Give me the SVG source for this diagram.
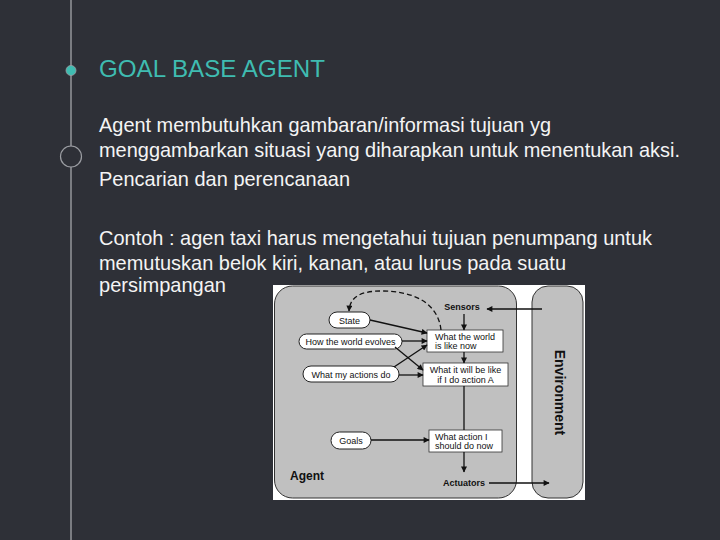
<svg xmlns="http://www.w3.org/2000/svg" width="720" height="540" viewBox="0 0 720 540">
<style>
.body{font-family:"Liberation Sans",Arial,sans-serif;font-size:21px;fill:#f4f4f4}
.title{font-family:"Liberation Sans",Arial,sans-serif;font-size:24px;fill:#3fbcb1}
.lbl{font-family:"Liberation Sans",Arial,sans-serif;font-size:9px;fill:#111}
.bold{font-weight:bold}
.oval{fill:#fff;stroke:#222;stroke-width:1}
.box{fill:#fff;stroke:#333;stroke-width:0.8}
.conn{stroke:#111;stroke-width:1.3;fill:none}
</style>
<defs>
<marker id="ah" viewBox="0 0 10 10" refX="9" refY="5" markerWidth="7" markerHeight="6" orient="auto" markerUnits="userSpaceOnUse">
<path d="M0,0 L10,5 L0,10 z" fill="#111"/>
</marker>
</defs>
<rect width="720" height="540" fill="#2e3037"/>
<g id="timeline">
<line x1="71" y1="0" x2="71" y2="540" stroke="#9c9ea3" stroke-width="1.4"/>
<circle cx="71" cy="70.5" r="5" fill="#3fbcb1" stroke="#9c9ea3" stroke-width="0.8"/>
<circle cx="71" cy="156.5" r="10.5" fill="#2e3037" stroke="#9c9ea3" stroke-width="1.2"/>
</g>
<g id="text">
<text class="title" x="99" y="77" textLength="226" lengthAdjust="spacingAndGlyphs">GOAL BASE AGENT</text>
<text class="body" x="99" y="132" textLength="452" lengthAdjust="spacingAndGlyphs">Agent membutuhkan gambaran/informasi tujuan yg</text>
<text class="body" x="99" y="157" textLength="581" lengthAdjust="spacingAndGlyphs">menggambarkan situasi yang diharapkan untuk menentukan aksi.</text>
<text class="body" x="99" y="186" textLength="251" lengthAdjust="spacingAndGlyphs">Pencarian dan perencanaan</text>
<text class="body" x="99" y="245" textLength="553" lengthAdjust="spacingAndGlyphs">Contoh : agen taxi harus mengetahui tujuan penumpang untuk</text>
<text class="body" x="99" y="270" textLength="467" lengthAdjust="spacingAndGlyphs">memutuskan belok kiri, kanan, atau lurus pada suatu</text>
<text class="body" x="99" y="292" textLength="127" lengthAdjust="spacingAndGlyphs">persimpangan</text>
</g>
<g id="figure">
<rect x="273" y="285" width="312" height="215" fill="#fff"/>
<g id="agent">
<rect x="274.5" y="286" width="242" height="212" rx="18" fill="#c0c0c0" stroke="#333" stroke-width="1"/>
<text class="lbl bold" x="290" y="480" style="font-size:12px">Agent</text>
</g>
<g id="environment">
<rect x="532" y="286" width="51" height="212" rx="16" fill="#c0c0c0" stroke="#333" stroke-width="1"/>
<text class="lbl bold" x="0" y="0" text-anchor="middle" style="font-size:14px" transform="translate(555,392.5) rotate(90)">Environment</text>
</g>
<g id="sensors"><text class="lbl bold" x="462" y="310" text-anchor="middle">Sensors</text></g>
<g id="actuators"><text class="lbl bold" x="464" y="486" text-anchor="middle">Actuators</text></g>
<g id="state"><rect class="oval" x="329" y="312" width="41" height="16" rx="8"/><text class="lbl" x="349.5" y="323.5" text-anchor="middle">State</text></g>
<g id="evolves"><rect class="oval" x="299" y="334" width="103" height="15" rx="7.5"/><text class="lbl" x="350.5" y="345" text-anchor="middle">How the world evolves</text></g>
<g id="actions"><rect class="oval" x="303" y="366" width="96" height="16" rx="8"/><text class="lbl" x="351" y="377.5" text-anchor="middle">What my actions do</text></g>
<g id="goals"><rect class="oval" x="331" y="432" width="40" height="17" rx="8.5"/><text class="lbl" x="351" y="444" text-anchor="middle">Goals</text></g>
<g id="world-now"><rect class="box" x="427" y="330" width="76" height="22"/><text class="lbl" x="435" y="339.5">What the world</text><text class="lbl" x="435" y="349">is like now</text></g>
<g id="will-be"><rect class="box" x="423" y="363" width="85" height="23"/><text class="lbl" x="465.5" y="372.5" text-anchor="middle">What it will be like</text><text class="lbl" x="465.5" y="382.5" text-anchor="middle">if I do action A</text></g>
<g id="action-now"><rect class="box" x="429" y="430" width="73" height="22"/><text class="lbl" x="435" y="439.5">What action I</text><text class="lbl" x="435" y="449">should do now</text></g>
<g id="connectors">
<line class="conn" x1="542" y1="309" x2="487" y2="309" marker-end="url(#ah)"/>
<line class="conn" x1="464" y1="314" x2="464" y2="330" marker-end="url(#ah)"/>
<line class="conn" x1="464" y1="352" x2="464" y2="363" marker-end="url(#ah)"/>
<line class="conn" x1="464" y1="386" x2="464" y2="430"/>
<line class="conn" x1="464" y1="452" x2="464" y2="472" marker-end="url(#ah)"/>
<line class="conn" x1="489" y1="483" x2="549" y2="483" marker-end="url(#ah)"/>
<path class="conn" d="M370,320 L427,333" marker-end="url(#ah)"/>
<path class="conn" d="M402,341 L427,341" marker-end="url(#ah)"/>
<path class="conn" d="M394,367 L427,345" marker-end="url(#ah)"/>
<path class="conn" d="M395,347 L423,370" marker-end="url(#ah)"/>
<path class="conn" d="M399,375 L423,375" marker-end="url(#ah)"/>
<path class="conn" d="M371,440 L429,440" marker-end="url(#ah)"/>
<path class="conn" d="M441,330 C438,302 412,291 382,291 C360,291 350,297 349,311" stroke-dasharray="5,3" stroke-width="1.5" marker-end="url(#ah)"/>
</g>
</g>
</svg>
